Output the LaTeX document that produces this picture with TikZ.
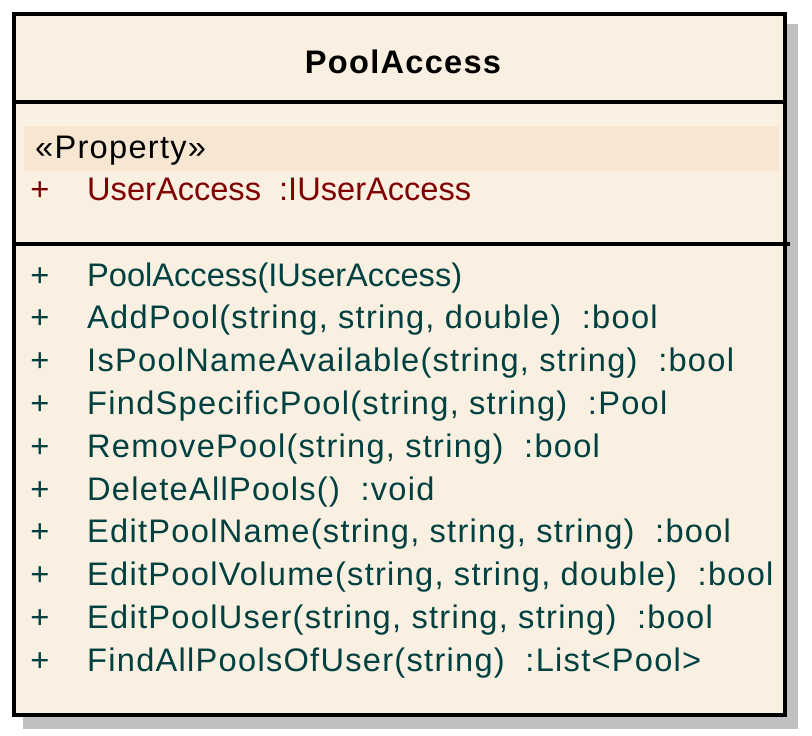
\documentclass[tikz,border=0pt]{standalone}
\usepackage{fontspec}
\setmainfont{Liberation Sans}
\newfontfamily\umlfont{Liberation Sans}
\newfontfamily\umlspaced[LetterSpace=3.9]{Liberation Sans}
\usetikzlibrary{positioning}
\definecolor{classfill}{RGB}{250,240,225}
\definecolor{propband}{RGB}{247,230,210}
\definecolor{opcolor}{RGB}{0,64,64}
\definecolor{attcolor}{RGB}{128,0,0}
\definecolor{shadowgray}{RGB}{192,192,192}
\tikzstyle{member} = [anchor=base west, inner sep=0pt, text=opcolor, font=\umlfont\fontsize{32.6}{36}\selectfont]
\tikzstyle{spacedmember} = [member, font=\umlspaced\fontsize{32.6}{36}\selectfont]
\tikzstyle{vis} = [anchor=base, inner sep=0pt, text=opcolor, font=\umlfont\fontsize{32.6}{36}\selectfont]
\tikzstyle{divider} = [line width=3.5pt]
\tikzstyle{classbox} = [line width=4pt, fill=classfill]

\begin{document}
\begin{tikzpicture}[x=1pt,y=-1pt]
\useasboundingbox (0,0) rectangle (812,736);
\fill[shadowgray] (23,24) rectangle (798,729);
\draw[classbox] (14,14) rectangle (785,715);
\fill[propband] (24,126) rectangle (779,171);
\draw[divider] (14,102) -- (785,102);
\draw[divider] (14,244) -- (790,244);
\node (title) [anchor=base, inner sep=0pt, font=\umlspaced\fontsize{32.6}{36}\selectfont\bfseries] at (403,73) {PoolAccess};
\node (stereo) [spacedmember, text=black] at (35,158.5) {«Property»};
\node (attvis) [vis, text=attcolor] at (40,200) {+};
\node (att) [member, text=attcolor] at (87,200) {UserAccess~~:IUserAccess};
\foreach \i in {1,...,10}
  \node (vis\i) [vis] at (40,{286+42.8*(\i-1)}) {+};
\node (op1) [member] at (87,286) {PoolAccess(IUserAccess)};
\foreach \sig [count=\i from 2] in {{AddPool(string, string, double)~~:bool},
    {IsPoolNameAvailable(string, string)~~:bool},
    {FindSpecificPool(string, string)~~:Pool},
    {RemovePool(string, string)~~:bool},
    {DeleteAllPools()~~:void},
    {EditPoolName(string, string, string)~~:bool},
    {EditPoolVolume(string, string, double)~~:bool},
    {EditPoolUser(string, string, string)~~:bool},
    {FindAllPoolsOfUser(string)~~:List<Pool>}}
  \node (op\i) [spacedmember] at (87,{286+42.8*(\i-1)}) {\sig};
\end{tikzpicture}
\end{document}
